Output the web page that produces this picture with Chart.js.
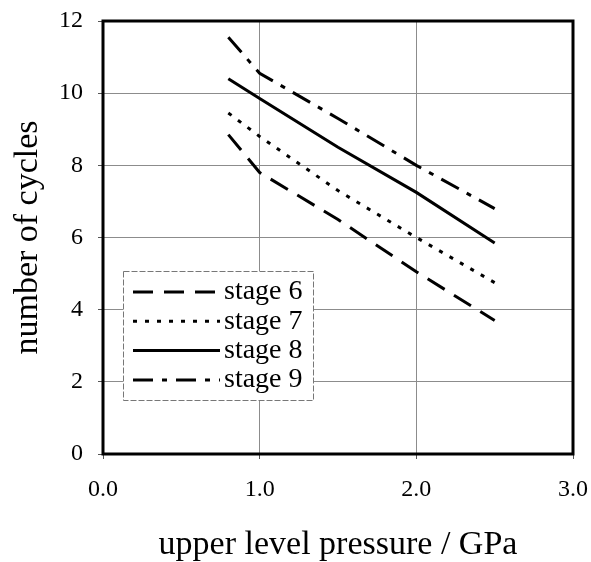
<!DOCTYPE html>
<html>
<head>
<meta charset="utf-8">
<script src="https://cdn.jsdelivr.net/npm/chart.js@4/dist/chart.umd.min.js"></script>
<style>
  html, body { margin: 0; padding: 0; background: #ffffff; }
  #wrap { width: 591px; height: 562px; position: relative; }
</style>
</head>
<body>
<div id="wrap"><canvas id="c" width="591" height="562"></canvas></div>
<script>
// ---- data ----
const pressures = [0.8, 1.0, 1.5, 2.0, 2.5];           // upper level pressure / GPa
const stage6 = [8.85, 7.8, 6.5, 5.05, 3.7];
const stage7 = [9.45, 8.8, 7.3, 6.0, 4.75];
const stage8 = [10.4, 9.85, 8.5, 7.25, 5.85];
const stage9 = [11.55, 10.55, 9.3, 8.0, 6.8];
const seriesLabels = ['stage 6', 'stage 7', 'stage 8', 'stage 9'];
const xTicks = [0, 1, 2, 3];
const yTicks = [0, 2, 4, 6, 8, 10, 12];

const FONT = "'Liberation Serif', 'Times New Roman', serif";

function pts(ys) { return pressures.map((x, i) => ({ x: x, y: ys[i] })); }

const dashes = [[20, 11], [4, 8], [], [20, 9, 5, 9]];
const seriesData = [stage6, stage7, stage8, stage9];

const datasets = seriesData.map((ys, i) => ({
  label: seriesLabels[i],
  data: pts(ys),
  borderColor: '#000',
  backgroundColor: '#000',
  borderWidth: 3,
  borderDash: dashes[i],
  pointRadius: 0,
  tension: 0,
  fill: false
}));

const framePlugin = {
  id: 'frameAndLegend',
  afterDraw(chart) {
    const { ctx, chartArea: a } = chart;
    ctx.save();
    // frame
    ctx.strokeStyle = '#000';
    ctx.lineWidth = 3;
    ctx.setLineDash([]);
    ctx.strokeRect(a.left, a.top, a.right - a.left, a.bottom - a.top);
    // legend box
    const bx = 123, by = 271, bw = 190, bh = 129;
    ctx.fillStyle = '#fff';
    ctx.fillRect(bx, by, bw, bh);
    ctx.strokeStyle = '#777';
    ctx.lineWidth = 1;
    ctx.setLineDash([6, 2]);
    ctx.strokeRect(bx + 0.5, by + 0.5, bw, bh);
    ctx.font = '28px ' + FONT;
    ctx.textBaseline = 'middle';
    ctx.textAlign = 'left';
    chart.data.datasets.forEach((ds, i) => {
      const cy = 292 + i * 29.3;
      ctx.strokeStyle = '#000';
      ctx.lineWidth = 3;
      ctx.setLineDash(ds.borderDash || []);
      ctx.beginPath();
      ctx.moveTo(133, cy);
      ctx.lineTo(220, cy);
      ctx.stroke();
      ctx.fillStyle = '#000';
      ctx.fillText(ds.label, 224, cy);
    });
    ctx.restore();
  }
};

new Chart(document.getElementById('c'), {
  type: 'line',
  data: { datasets: datasets },
  options: {
    responsive: false,
    animation: false,
    layout: { padding: { top: 21, right: 18, left: 0, bottom: 0 } },
    plugins: { legend: { display: false }, tooltip: { enabled: false } },
    scales: {
      x: {
        type: 'linear',
        min: 0, max: 3,
        afterFit(s) { s.height = 108; s.paddingLeft = 0; s.paddingRight = 0; },
        afterBuildTicks(s) { s.ticks = xTicks.map(v => ({ value: v })); },
        ticks: {
          color: '#000',
          font: { family: FONT, size: 24 },
          padding: 16,
          callback: v => Number(v).toFixed(1)
        },
        grid: { color: '#8c8c8c', lineWidth: 1, tickLength: 5, tickColor: '#555' },
        border: { display: false },
        title: {
          display: true,
          text: 'upper level pressure / GPa',
          color: '#000',
          font: { family: FONT, size: 34, lineHeight: 1 },
          padding: { top: 0, bottom: 0 }
        }
      },
      y: {
        type: 'linear',
        min: 0, max: 12,
        afterFit(s) { s.width = 103; s.paddingTop = 0; s.paddingBottom = 0; },
        afterBuildTicks(s) { s.ticks = yTicks.map(v => ({ value: v })); },
        ticks: {
          color: '#000',
          font: { family: FONT, size: 24 },
          padding: 15
        },
        grid: { color: '#8c8c8c', lineWidth: 1, tickLength: 5, tickColor: '#555' },
        border: { display: false },
        title: {
          display: true,
          text: 'number of cycles',
          color: '#000',
          font: { family: FONT, size: 34, lineHeight: 1 },
          padding: { top: 11, bottom: 0 }
        }
      }
    }
  },
  plugins: [framePlugin]
});
</script>
</body>
</html>
